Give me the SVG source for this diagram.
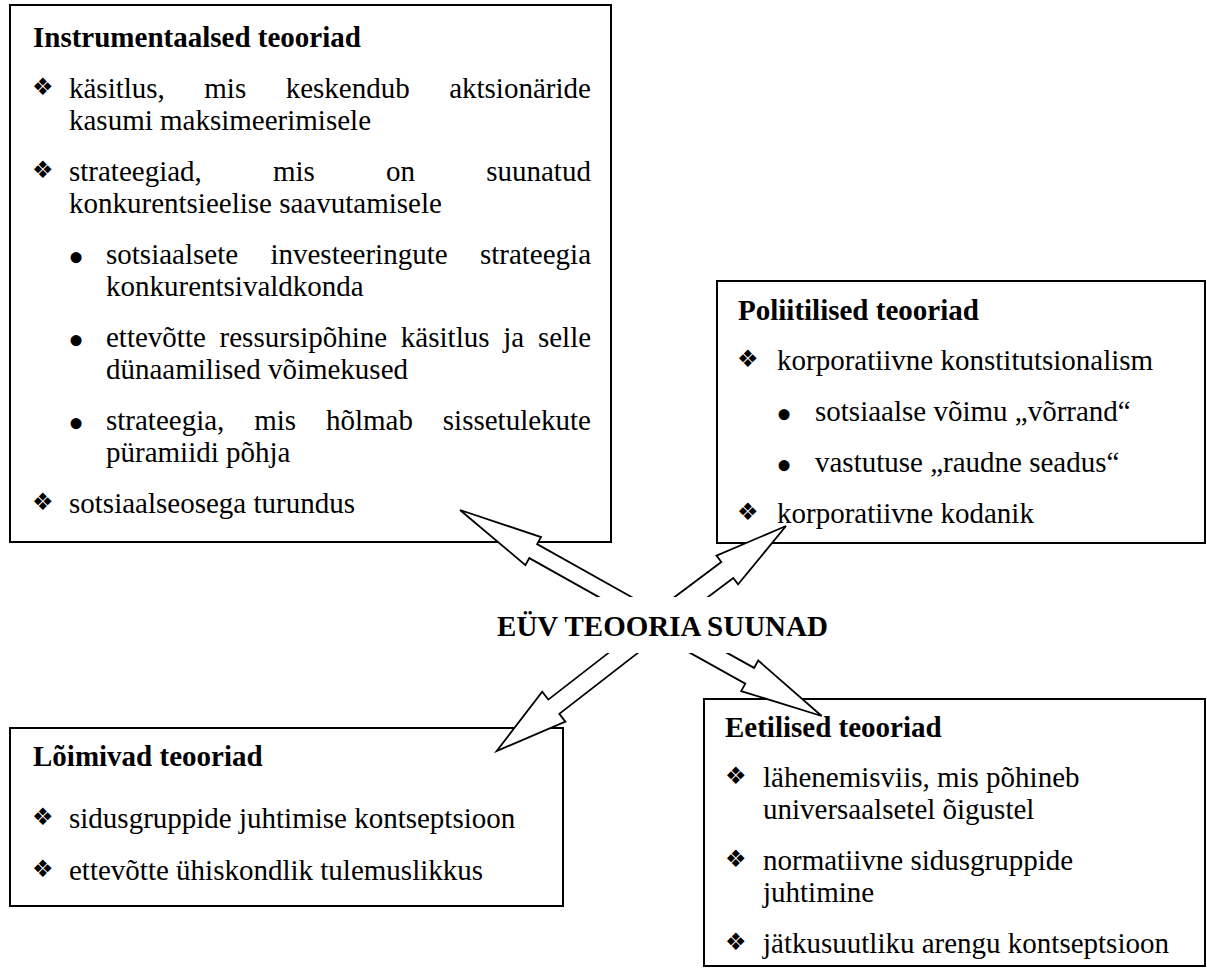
<svg xmlns="http://www.w3.org/2000/svg" width="1207" height="968" viewBox="0 0 1207 968">
  <style>
    .box { fill: #fff; stroke: #000; stroke-width: 2; }
    .t { font-family: "Liberation Serif", "Times New Roman", serif; font-size: 29px; fill: #000; }
    .b { font-weight: bold; }
    .sym { font-family: "DejaVu Sans", sans-serif; font-size: 24px; fill: #000; }
    .dot { font-family: "Liberation Serif", "Times New Roman", serif; font-size: 46px; fill: #000; }
    .arrow { fill: #fff; stroke: #000; stroke-width: 1.8; stroke-linejoin: miter; }
  </style>

  <!-- Instrumental theories -->
  <g id="instrumentaalsed">
    <rect class="box" x="10" y="5" width="601" height="537"/>
    <text class="t b" x="33" y="47">Instrumentaalsed teooriad</text>
    <text class="sym" x="32" y="95">❖</text>
    <text class="t" x="69" y="98" word-spacing="32.2">käsitlus, mis keskendub aktsionäride</text>
    <text class="t" x="69" y="130">kasumi maksimeerimisele</text>
    <text class="sym" x="32" y="178">❖</text>
    <text class="t" x="69" y="181" word-spacing="63.9">strateegiad, mis on suunatud</text>
    <text class="t" x="69" y="213">konkurentsieelise saavutamisele</text>
    <text class="dot" x="68" y="273">•</text>
    <text class="t" x="106" y="264" word-spacing="25.1">sotsiaalsete investeeringute strateegia</text>
    <text class="t" x="106" y="296">konkurentsivaldkonda</text>
    <text class="dot" x="68" y="356">•</text>
    <text class="t" x="106" y="347" word-spacing="6.5">ettevõtte ressursipõhine käsitlus ja selle</text>
    <text class="t" x="106" y="379">dünaamilised võimekused</text>
    <text class="dot" x="68" y="439">•</text>
    <text class="t" x="106" y="430" word-spacing="22.6">strateegia, mis hõlmab sissetulekute</text>
    <text class="t" x="106" y="462">püramiidi põhja</text>
    <text class="sym" x="32" y="510">❖</text>
    <text class="t" x="69" y="513">sotsiaalseosega turundus</text>
  </g>

  <!-- Political theories -->
  <g id="poliitilised">
    <rect class="box" x="717" y="281" width="488" height="262"/>
    <text class="t b" x="738" y="320">Poliitilised teooriad</text>
    <text class="sym" x="737" y="367">❖</text>
    <text class="t" x="777" y="370">korporatiivne konstitutsionalism</text>
    <text class="dot" x="776" y="430">•</text>
    <text class="t" x="815" y="421">sotsiaalse võimu „võrrand“</text>
    <text class="dot" x="776" y="481">•</text>
    <text class="t" x="815" y="472">vastutuse „raudne seadus“</text>
    <text class="sym" x="737" y="520">❖</text>
    <text class="t" x="777" y="523">korporatiivne kodanik</text>
  </g>

  <!-- Integrative theories -->
  <g id="loimivad">
    <rect class="box" x="10" y="728" width="553" height="178"/>
    <text class="t b" x="33" y="766">Lõimivad teooriad</text>
    <text class="sym" x="32" y="825">❖</text>
    <text class="t" x="69" y="828">sidusgruppide juhtimise kontseptsioon</text>
    <text class="sym" x="32" y="877">❖</text>
    <text class="t" x="69" y="880">ettevõtte ühiskondlik tulemuslikkus</text>
  </g>

  <!-- Ethical theories -->
  <g id="eetilised">
    <rect class="box" x="704" y="699" width="501" height="267"/>
    <text class="t b" x="725" y="737">Eetilised teooriad</text>
    <text class="sym" x="725" y="784">❖</text>
    <text class="t" x="763" y="787">lähenemisviis, mis põhineb</text>
    <text class="t" x="763" y="819">universaalsetel õigustel</text>
    <text class="sym" x="725" y="867">❖</text>
    <text class="t" x="763" y="870">normatiivne sidusgruppide</text>
    <text class="t" x="763" y="902">juhtimine</text>
    <text class="sym" x="725" y="950">❖</text>
    <text class="t" x="763" y="953">jätkusuutliku arengu kontseptsioon</text>
  </g>

  <!-- Block arrows radiating from the centre label -->
  <g id="connectors">
    <polygon class="arrow" points="460,510 541,537.1 537.1,544.1 669,618 661.2,632 529.3,558.1 525.4,565.1"/>
    <polygon class="arrow" points="786,526 716.5,555.6 721.3,562 648,617 660,633 733.3,578 738.1,584.4"/>
    <polygon class="arrow" points="496.7,751 542.2,691.7 548.3,699.6 653.6,617.9 664.6,632.1 559.3,713.8 565.4,721.7"/>
    <polygon class="arrow" points="821.7,716 758.2,660.5 754.1,667.9 662.9,617.1 654.1,632.9 745.3,683.7 741.2,691.1"/>
  </g>

  <!-- Centre label -->
  <g id="suunad">
    <rect x="480" y="597" width="370" height="56" fill="#fff"/>
    <text class="t b" x="662.5" y="636" text-anchor="middle">EÜV TEOORIA SUUNAD</text>
  </g>
</svg>
